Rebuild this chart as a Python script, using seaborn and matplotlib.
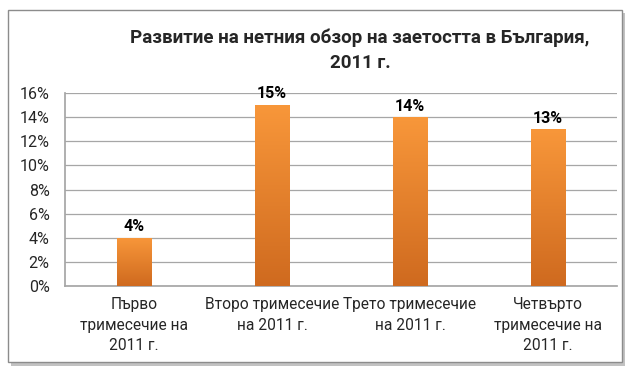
import numpy as np
import pandas as pd
import matplotlib
matplotlib.use("Agg")
import matplotlib.pyplot as plt
import seaborn as sns
from matplotlib.patches import Rectangle
from matplotlib.colors import LinearSegmentedColormap

categories = ["Първо\nтримесечие на\n2011 г.", "Второ тримесечие\nна 2011 г.",
              "Трето тримесечие\nна 2011 г.", "Четвърто\nтримесечие на\n2011 г."]
values = [4, 15, 14, 13]
value_labels = ["4%", "15%", "14%", "13%"]
yticks = [0, 2, 4, 6, 8, 10, 12, 14, 16]
ytick_labels = ["0%", "2%", "4%", "6%", "8%", "10%", "12%", "14%", "16%"]
title = "Развитие на нетния обзор на заетостта в България,\n2011 г."

sns.set_theme(style="white")
plt.rcParams['font.family'] = ['Roboto', 'Open Sans', 'DejaVu Sans']

fig = plt.figure(figsize=(6.36, 3.75), dpi=100)
W, H = 636, 375

# frame with shadow
fig.patches.append(Rectangle((11 / W, 1 - 366 / H), 614 / W, 353 / H, transform=fig.transFigure,
                             facecolor="#9a9a9a", edgecolor="none", alpha=0.6, zorder=0))
fig.patches.append(Rectangle((8 / W, 1 - 362 / H), 614 / W, 352 / H, transform=fig.transFigure,
                             facecolor="white", edgecolor="#8c8c8c", lw=1.0, zorder=1))

ax = fig.add_axes([65 / W, 1 - 286 / H, (617 - 65) / W, (286 - 93) / H])
ax.set_zorder(2)
ax.patch.set_alpha(0)

df = pd.DataFrame({"cat": categories, "val": values})
sns.barplot(data=df, x="cat", y="val", color="#E57F25", width=0.25, ax=ax, zorder=3)

# gradient on bars: lighter at top, darker at bottom
grad = np.linspace(0, 1, 256).reshape(-1, 1)
cmap = LinearSegmentedColormap.from_list("og", ["#F8973A", "#CF6A1F"])
for p in ax.patches:
    x0, y0 = p.get_x(), p.get_y()
    w, h = p.get_width(), p.get_height()
    im = ax.imshow(grad, extent=[x0, x0 + w, y0, y0 + h], cmap=cmap, aspect="auto",
                   zorder=4, origin="upper")
    im.set_clip_path(p)
    p.set_edgecolor("none")

for i, (v, lab) in enumerate(zip(values, value_labels)):
    ax.text(i, v + 0.3, lab, ha="center", va="bottom", fontsize=11.5, fontweight="bold", color="black")

ax.set_xlim(-0.5, 3.5)
ax.set_ylim(0, 16)
ax.set_yticks(yticks)
ax.set_yticklabels(ytick_labels, fontsize=11.5)
ax.yaxis.grid(True, color="#a6a6a6", lw=0.9, zorder=0)
ax.set_axisbelow(True)
for s in ["top", "right"]:
    ax.spines[s].set_visible(False)
ax.spines["left"].set_color("#a6a6a6")
ax.spines["bottom"].set_color("#a6a6a6")
ax.tick_params(axis="y", length=0, pad=11, left=False)
ax.tick_params(axis="x", length=0, pad=8, labelsize=11.2)
for t in ax.get_xticklabels():
    t.set_linespacing(1.45)
ax.set_xlabel("")
ax.set_ylabel("")

fig.text(360 / W, 1 - 50 / H, title, ha="center", va="center", fontsize=13.5,
         fontweight="bold", linespacing=1.5)

fig.savefig("out.png", dpi=100)
